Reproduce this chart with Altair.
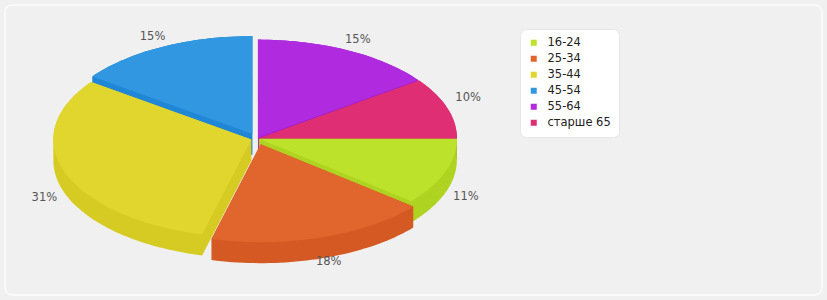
import math
import numpy as np
import pandas as pd
import altair as alt

# ---- data ----
groups = ["16-24", "25-34", "35-44", "45-54", "55-64", "старше 65"]
shares = [11, 18, 31, 15, 15, 10]

# ---- styles / layout (not data) ----
top_colors = ["#bde22c", "#e0662e", "#e0d62e", "#3097e0", "#b02be0", "#e02e74"]
side_colors = ["#aed321", "#d45922", "#d6cb22", "#2087d6", "#a020d4", "#cf2466"]
explode = [2, 12, 6, 10, 2, 2]
CX, CY = 257.0, 138.5
RX, RY = 198.0, 98.0
DEPTH = 21.0
W, H = 827, 300


def hull(pts):
    pts = sorted(set(pts))
    def cross(o, a, b):
        return (a[0] - o[0]) * (b[1] - o[1]) - (a[1] - o[1]) * (b[0] - o[0])
    lower, upper = [], []
    for p in pts:
        while len(lower) >= 2 and cross(lower[-2], lower[-1], p) <= 0:
            lower.pop()
        lower.append(p)
    for p in reversed(pts):
        while len(upper) >= 2 and cross(upper[-2], upper[-1], p) <= 0:
            upper.pop()
        upper.append(p)
    return lower[:-1] + upper[:-1]


total = float(sum(shares))
rows, labels = [], []
start = 0.0
mids = []
for g, v, d in zip(groups, shares, explode):
    span = 360.0 * v / total
    a0, a1 = start, start + span
    start = a1
    m = math.radians((a0 + a1) / 2)
    mids.append(m)
    ox = CX + d * math.cos(m)
    oy = CY + d * (RY / RX) * math.sin(m)
    n = max(8, int(span / 1.5))
    top = [(ox, oy)]
    for a in np.linspace(a0, a1, n):
        t = math.radians(a)
        top.append((ox + RX * math.cos(t), oy + RY * math.sin(t)))
    for i, (x, y) in enumerate(top):
        rows.append({"group": g, "part": "top", "i": i, "x": x, "y": y})
    side = hull([(round(x, 3), round(y, 3)) for x, y in top] +
                [(round(x, 3), round(y + DEPTH, 3)) for x, y in top])
    for i, (x, y) in enumerate(side):
        rows.append({"group": g, "part": "side", "i": i, "x": x, "y": y})
    lx = ox + (RX + 22) * math.cos(m)
    ly = oy + RY * math.sin(m) + (DEPTH + 4 if math.sin(m) > 0 else -10)
    labels.append({"group": g, "text": f"{v}%", "x": lx, "y": ly})

df = pd.DataFrame(rows)
lab = pd.DataFrame(labels)

xs = alt.Scale(domain=[0, W], nice=False, zero=False)
ys = alt.Scale(domain=[0, H], nice=False, zero=False, reverse=True)

base = alt.Chart(df)

border = alt.Chart(pd.DataFrame({"k": [0]})).mark_rect(
    fill="#f0f0f0", stroke="#fbfbfb", strokeWidth=1.5, cornerRadius=7
).encode(x=alt.value(5), x2=alt.value(822), y=alt.value(5), y2=alt.value(295))

layers = [border]
order = sorted(range(len(groups)), key=lambda k: math.sin(mids[k]))
for k in order:
    layers.append(
        base.transform_filter(
            (alt.datum.part == "side") & (alt.datum.group == groups[k])
        ).mark_line(filled=True, color=side_colors[k], interpolate="linear").encode(
            x=alt.X("x:Q", scale=xs, axis=None),
            y=alt.Y("y:Q", scale=ys, axis=None),
            order=alt.Order("i:Q"),
        )
    )

tops = base.transform_filter(alt.datum.part == "top").mark_line(
    filled=True, interpolate="linear"
).encode(
    x=alt.X("x:Q", scale=xs, axis=None),
    y=alt.Y("y:Q", scale=ys, axis=None),
    order=alt.Order("i:Q"),
    detail="group:N",
    color=alt.Color(
        "group:N",
        scale=alt.Scale(domain=groups, range=top_colors),
        legend=alt.Legend(
            title=None, orient="none", legendX=520, legendY=29,
            symbolType="square", symbolSize=36, symbolStrokeWidth=0,
            labelFont="DejaVu Sans", labelFontSize=11.5, labelColor="#222",
            labelOffset=8, rowPadding=3, padding=8,
            fillColor="#ffffff", strokeColor="#e6e6e6", cornerRadius=6,
        ),
    ),
)
layers.append(tops)

text = alt.Chart(lab).mark_text(
    font="DejaVu Sans", fontSize=11.5, color="#555", align="center", baseline="middle"
).encode(
    x=alt.X("x:Q", scale=xs, axis=None),
    y=alt.Y("y:Q", scale=ys, axis=None),
    text="text:N",
)
layers.append(text)

chart = alt.layer(*layers).properties(
    width=W, height=H, padding=0, autosize="none", background="#f0f0f0"
).configure_view(stroke=None)

chart.save("out.html", embed_options={"renderer": "svg", "actions": False})
